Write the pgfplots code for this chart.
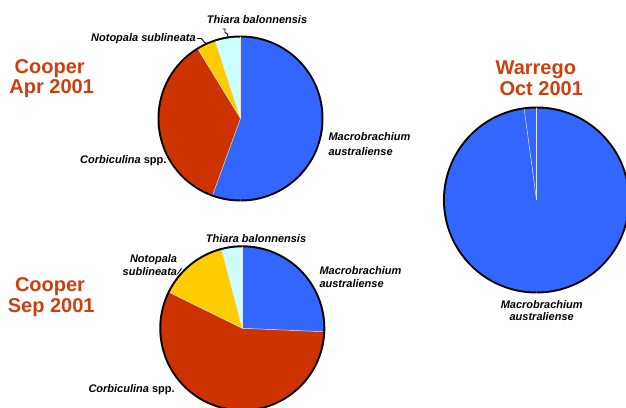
\documentclass[border=0pt]{standalone}
\usepackage{fontspec}
\setmainfont{Liberation Sans}
\usepackage{pgfplots}
\pgfplotsset{compat=1.18}
\definecolor{pblue}{HTML}{3366FF}
\definecolor{pred}{HTML}{CC3300}
\definecolor{pyel}{HTML}{FFCC00}
\definecolor{pcyan}{HTML}{CCFFFF}
\definecolor{ttl}{HTML}{CF3F0E}
\definecolor{rimc}{HTML}{050505}
% slice: cx, cy, r, start angle, end angle, colour (angles measured counter-clockwise, slices drawn clockwise from 12 o'clock)
\newcommand\pieslice[6]{%
  \fill[#6] (axis cs:#1,#2) -- ++(#4:#3 bp) arc[start angle=#4, end angle=#5, radius=#3 bp] -- cycle;}
\newcommand\pieedge[4]{%
  \draw[color=white!80!gray, line width=0.45bp] (axis cs:#1,#2) -- ++(#4:#3 bp);}
% outer rim as a filled ring (outer radius #3, inner radius #4), drawn before the slices
\newcommand\pieouter[4]{%
  \fill[rimc] (axis cs:#1,#2) -- ++(90:#3 bp) arc[start angle=90, end angle=-90, radius=#3 bp] -- ++(90:4bp) arc[start angle=-90, end angle=90, radius=#4 bp] -- cycle;
  \fill[rimc] (axis cs:#1,#2) -- ++(-90:#3 bp) arc[start angle=-90, end angle=-270, radius=#3 bp] -- ++(-90:4bp) arc[start angle=90, end angle=270, radius=#4 bp] -- cycle;}
\newcommand\lbl{\fontsize{11bp}{13bp}\selectfont\bfseries\itshape}
\newcommand\ttlfont{\fontsize{20bp}{22bp}\selectfont\bfseries}
\begin{document}
\begin{tikzpicture}
\begin{axis}[width=626bp, height=408bp, scale only axis,
  xmin=0, xmax=626, ymin=0, ymax=408, hide axis, clip=true]
\path (axis cs:0,0) rectangle (axis cs:626,408);
% ---- Cooper Apr 2001: Macrobrachium 55.6, Corbiculina 35.7, Notopala 3.7, Thiara 5.0 (%)
\pieouter{240.5}{289.5}{83}{79}
\pieslice{240.5}{289.5}{81}{90}{-110}{pblue}
\pieslice{240.5}{289.5}{81}{-110}{-238.5}{pred}
\pieslice{240.5}{289.5}{81}{121.5}{108}{pyel}
\pieslice{240.5}{289.5}{81}{108}{90}{pcyan}
\pieedge{240.5}{289.5}{81}{90}
\pieedge{240.5}{289.5}{81}{-110}
\pieedge{240.5}{289.5}{81}{121.5}
\pieedge{240.5}{289.5}{81}{108}
% ---- Cooper Sep 2001: Macrobrachium 25.7, Corbiculina 56.6, Notopala 13.6, Thiara 4.1 (%)
\pieouter{242.3}{79.7}{83}{79}
\pieslice{242.3}{79.7}{81}{90}{-2.4}{pblue}
\pieslice{242.3}{79.7}{81}{-2.4}{-206.2}{pred}
\pieslice{242.3}{79.7}{81}{153.8}{104.7}{pyel}
\pieslice{242.3}{79.7}{81}{104.7}{90}{pcyan}
\pieedge{242.3}{79.7}{81}{90}
\pieedge{242.3}{79.7}{81}{-2.4}
\pieedge{242.3}{79.7}{81}{153.8}
\pieedge{242.3}{79.7}{81}{104.7}
% ---- Warrego Oct 2001: Macrobrachium 97.9, second slice 2.1 (%)
\pieouter{536.5}{208}{93.5}{89.5}
\pieslice{536.5}{208}{91.5}{90}{-262.3}{pblue}
\pieslice{536.5}{208}{91.5}{97.7}{90}{pblue}
\pieedge{536.5}{208}{91.5}{90}
\pieedge{536.5}{208}{91.5}{97.7}
% ---- leader lines
\draw[black, line width=0.9bp] (axis cs:222.5,379) -- (axis cs:225,379) -- (axis cs:225,375.5) -- (axis cs:227.5,374) -- (axis cs:228,370.5);
\draw[black, line width=0.9bp] (axis cs:197,369.5) -- (axis cs:201.5,369.5) -- (axis cs:204,366) -- (axis cs:206.5,364.5);
\draw[black, line width=0.9bp] (axis cs:177.5,134) -- (axis cs:181.5,139.5);
% ---- labels
\node[anchor=base west, inner sep=0pt, font=\lbl] at (axis cs:206.7,384) {Thiara balonnensis};
\node[anchor=base west, inner sep=0pt, font=\lbl] at (axis cs:91,366) {Notopala sublineata};
\node[anchor=base west, inner sep=0pt, font=\lbl] at (axis cs:328.3,267.3) {Macrobrachium};
\node[anchor=base west, inner sep=0pt, font=\lbl] at (axis cs:328.3,252.7) {australiense};
\node[anchor=base west, inner sep=0pt, font=\lbl] at (axis cs:80,244) {Corbiculina \upshape spp.};
\node[anchor=base west, inner sep=0pt, font=\lbl] at (axis cs:205.7,165.3) {Thiara balonnensis};
\node[anchor=base east, inner sep=0pt, font=\lbl] at (axis cs:177.3,145.7) {Notopala};
\node[anchor=base east, inner sep=0pt, font=\lbl] at (axis cs:177.3,132.3) {sublineata};
\node[anchor=base west, inner sep=0pt, font=\lbl] at (axis cs:319.3,133.7) {Macrobrachium};
\node[anchor=base west, inner sep=0pt, font=\lbl] at (axis cs:319.3,120.7) {australiense};
\node[anchor=base west, inner sep=0pt, font=\lbl] at (axis cs:88.3,15.7) {Corbiculina \upshape spp.};
\node[anchor=base, inner sep=0pt, font=\lbl] at (axis cs:541.7,99.7) {Macrobrachium};
\node[anchor=base, inner sep=0pt, font=\lbl] at (axis cs:541.7,87.3) {australiense};
% ---- titles
\node[anchor=base, inner sep=0pt, font=\ttlfont, text=ttl] at (axis cs:49.7,334.7) {Cooper};
\node[anchor=base, inner sep=0pt, font=\ttlfont, text=ttl] at (axis cs:51.7,314) {Apr 2001};
\node[anchor=base, inner sep=0pt, font=\ttlfont, text=ttl] at (axis cs:50,116.3) {Cooper};
\node[anchor=base, inner sep=0pt, font=\ttlfont, text=ttl] at (axis cs:51.2,95.7) {Sep 2001};
\node[anchor=base, inner sep=0pt, font=\ttlfont, text=ttl] at (axis cs:535.8,333) {Warrego};
\node[anchor=base, inner sep=0pt, font=\ttlfont, text=ttl] at (axis cs:541.2,312) {Oct 2001};
\end{axis}
\end{tikzpicture}
\end{document}
